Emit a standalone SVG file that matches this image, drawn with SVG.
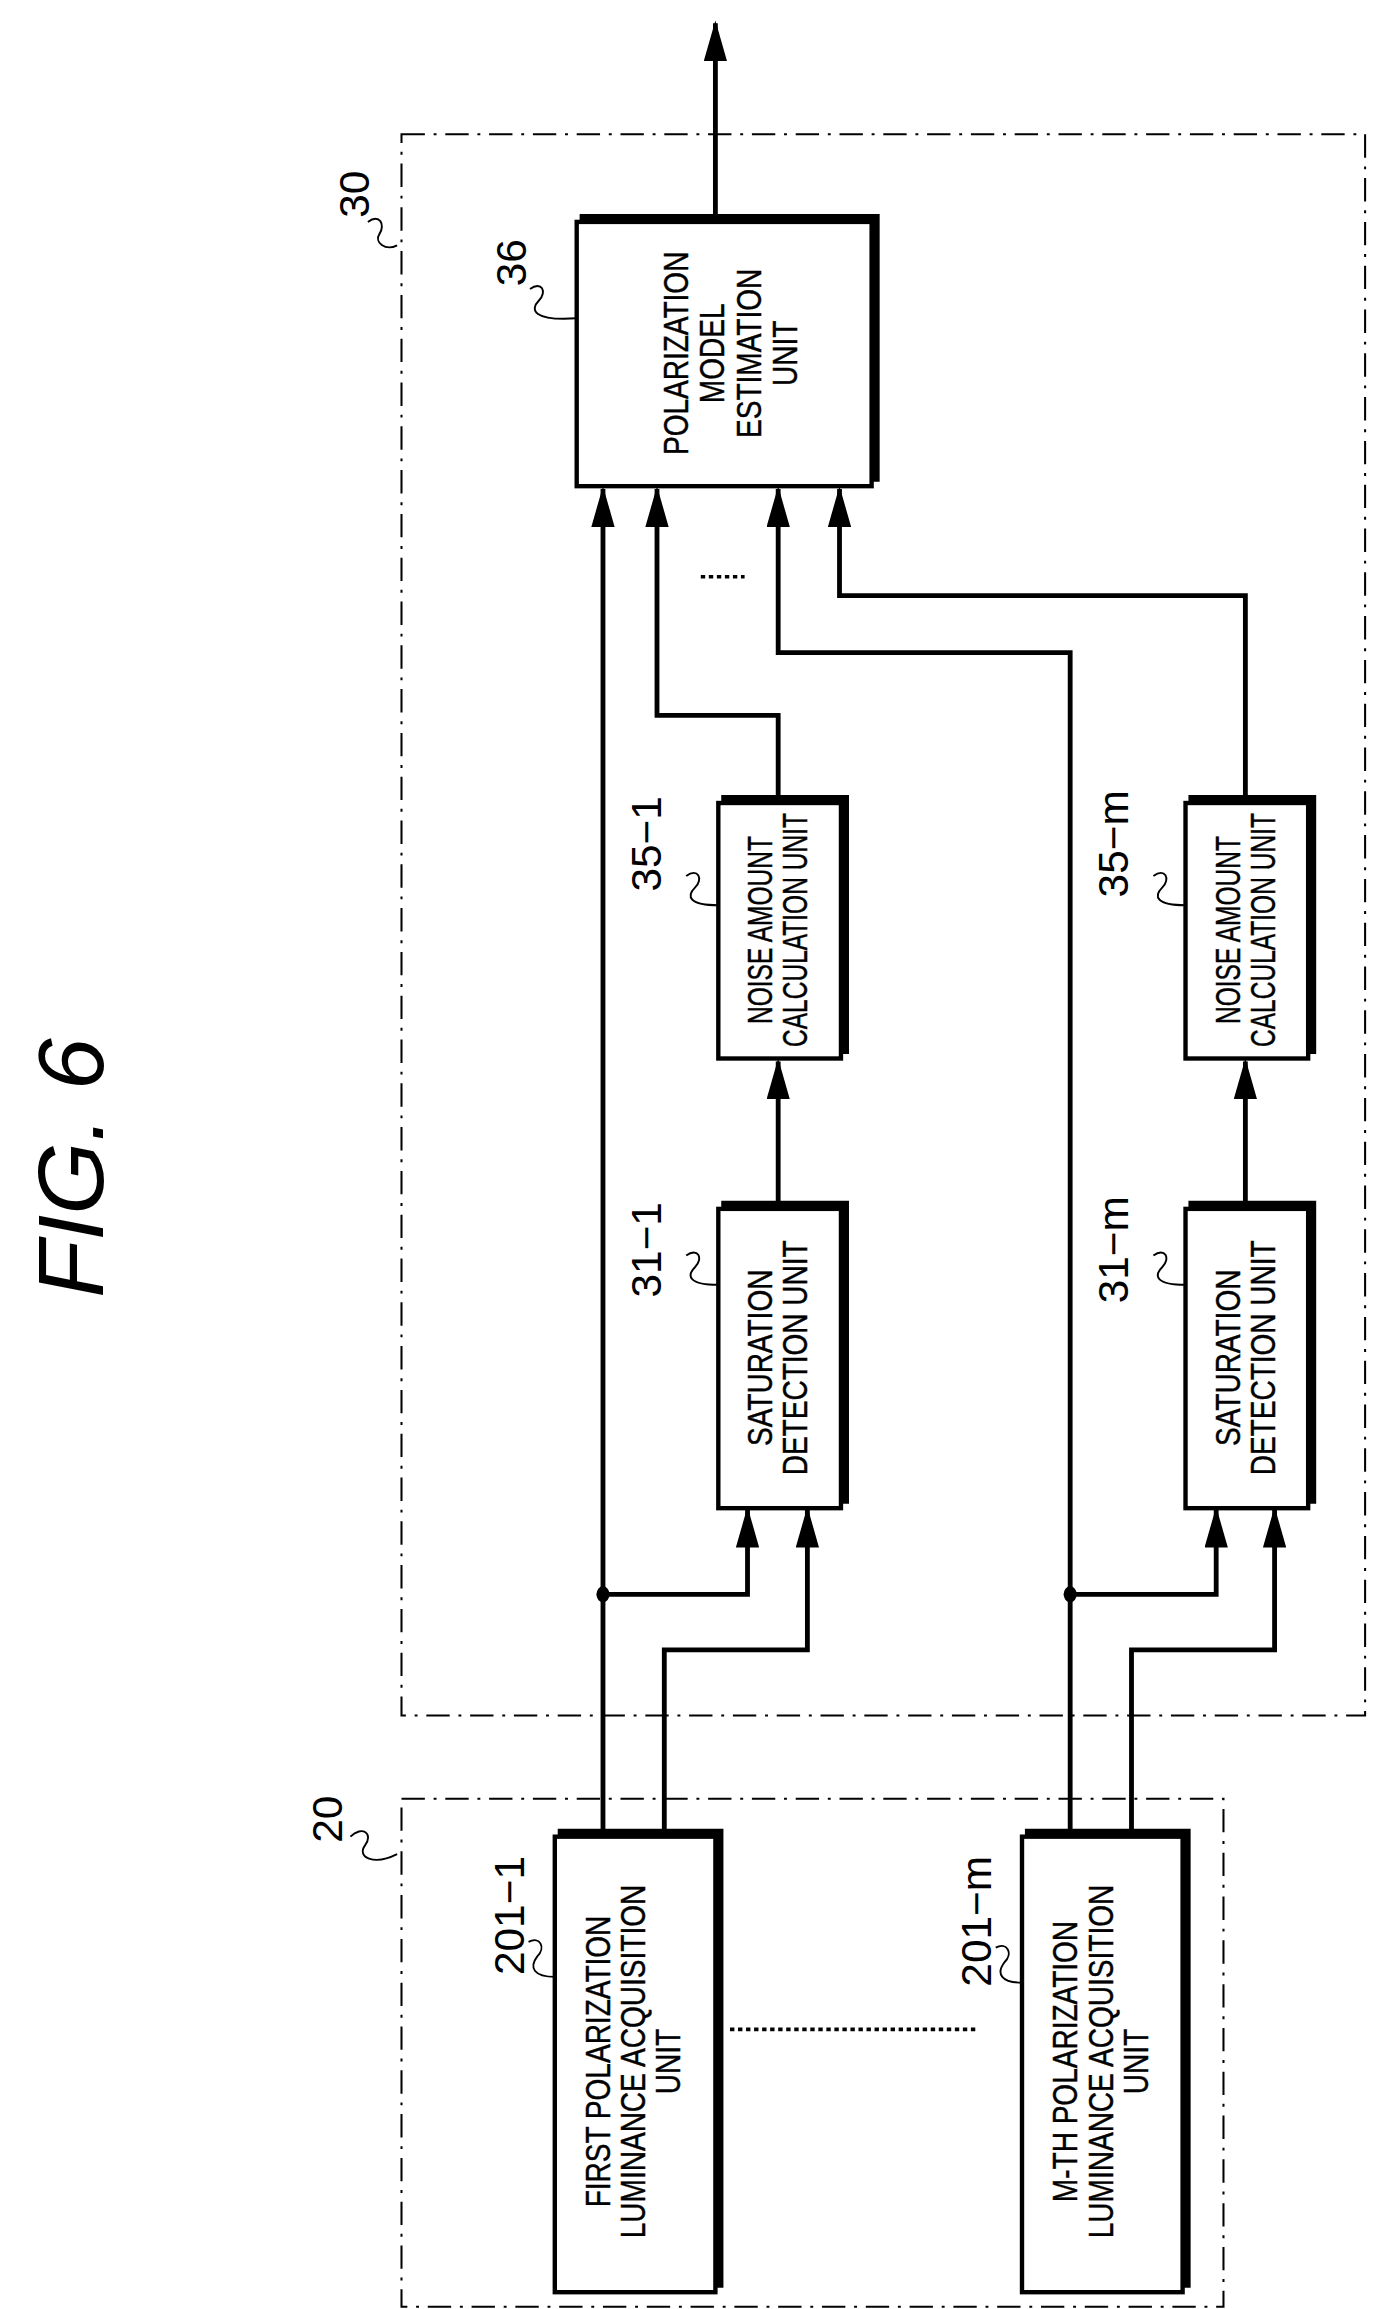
<svg xmlns="http://www.w3.org/2000/svg" width="1397" height="2309" viewBox="0 0 1397 2309">
<style>
.t{font-family:"Liberation Sans",Arial,sans-serif;font-size:24px;fill:#000;text-anchor:middle;stroke:#000;stroke-width:0.3}
.l{font-family:"Liberation Sans",Arial,sans-serif;font-size:29px;fill:#000;text-anchor:middle}
.b{fill:#fff;stroke:#000;stroke-width:3}
.s{fill:none;stroke:#000;stroke-width:5}
.c{fill:none;stroke:#000;stroke-width:3.3}
.q{fill:none;stroke:#000;stroke-width:1.3}
.d{fill:none;stroke:#000;stroke-width:1.4;stroke-dasharray:16 6 2 6}
</style>
<defs>
<marker id="a" markerUnits="userSpaceOnUse" markerWidth="28" markerHeight="16" refX="26" refY="8" orient="auto" viewBox="0 0 28 16"><path d="M0,0 L28,8 L0,16 Z"/></marker>
</defs>
<g transform="scale(1.46)">
<text transform="translate(48,800) rotate(-90)" style="font-family:'Liberation Sans',Arial,sans-serif;font-size:64px;font-style:italic;text-anchor:middle" dominant-baseline="central">FIG. 6</text>
<g id="box30"><rect class="d" x="275" y="92" width="660" height="1083"/>
<text class="l" transform="translate(243,133) rotate(-90)" dominant-baseline="central">30</text><path class="q" d="M252,152 c8,-6 12,2 8,8 c-4,6 4,12 12,8"/></g>
<g id="box20"><rect class="d" x="275" y="1232" width="563" height="348"/>
<text class="l" transform="translate(224,1246) rotate(-90)" dominant-baseline="central">20</text><path class="q" d="M240,1258 c8,-8 16,-2 10,6 c-6,8 6,14 22,6"/></g>
<g id="connectors">
<path class="c" d="M490,150 V16" marker-end="url(#a)"/>
<path class="c" d="M413,1255 V335" marker-end="url(#a)"/>
<path class="c" d="M533,548 V490 H450 V335" marker-end="url(#a)"/>
<path class="c" d="M733,1255 V447 H533 V335" marker-end="url(#a)"/>
<path class="c" d="M853,548 V408 H575 V335" marker-end="url(#a)"/>
<path class="c" d="M533,826 V727" marker-end="url(#a)"/>
<path class="c" d="M853,826 V727" marker-end="url(#a)"/>
<path class="c" d="M413,1092 H512 V1034" marker-end="url(#a)"/>
<path class="c" d="M455,1255 V1130 H553 V1034" marker-end="url(#a)"/>
<path class="c" d="M733,1092 H833 V1034" marker-end="url(#a)"/>
<path class="c" d="M775,1255 V1130 H873 V1034" marker-end="url(#a)"/>
<ellipse cx="413" cy="1092" rx="4.5" ry="5.5"/>
<ellipse cx="733" cy="1092" rx="4.5" ry="5.5"/>
<path d="M480,395 H510" stroke="#000" stroke-width="2.5" stroke-dasharray="3 2.5"/>
<path d="M500,1390 H670" stroke="#000" stroke-width="2.5" stroke-dasharray="3 2.5"/>
</g>
<g id="n36"><rect class="b" x="395" y="152" width="202" height="181"/><path class="s" d="M397,149 H600 V330"/>
<text class="t" transform="translate(497,242) rotate(-90) scale(0.8,1)"><tspan x="0" y="-26">POLARIZATION</tspan><tspan x="0" y="-1">MODEL</tspan><tspan x="0" y="24">ESTIMATION</tspan><tspan x="0" y="49">UNIT</tspan></text>
<text class="l" transform="translate(350,180) rotate(-90)" dominant-baseline="central">36</text><path class="q" d="M363,198 c8,-6 12,2 6,8 c-6,6 -4,14 26,12"/></g>
<g id="n35-1"><rect class="b" x="492" y="550" width="84" height="175"/><path class="s" d="M494,547 H579 V722"/>
<text class="t" transform="translate(534,637) rotate(-90) scale(0.7,1)"><tspan x="0" y="-5">NOISE AMOUNT</tspan><tspan x="0" y="19">CALCULATION UNIT</tspan></text>
<text class="l" transform="translate(443,578) rotate(-90)" dominant-baseline="central">35−1</text><path class="q" d="M470,600 c8,-6 12,2 6,8 c-6,6 -4,12 16,12"/></g>
<g id="n31-1"><rect class="b" x="492" y="828" width="84" height="205"/><path class="s" d="M494,825 H579 V1030"/>
<text class="t" transform="translate(534,930) rotate(-90) scale(0.8,1)"><tspan x="0" y="-5">SATURATION</tspan><tspan x="0" y="19">DETECTION UNIT</tspan></text>
<text class="l" transform="translate(443,856) rotate(-90)" dominant-baseline="central">31−1</text><path class="q" d="M470,860 c8,-6 12,2 6,8 c-6,6 -4,12 16,12"/></g>
<g id="n35-m"><rect class="b" x="812" y="550" width="84" height="175"/><path class="s" d="M814,547 H899 V722"/>
<text class="t" transform="translate(854,637) rotate(-90) scale(0.7,1)"><tspan x="0" y="-5">NOISE AMOUNT</tspan><tspan x="0" y="19">CALCULATION UNIT</tspan></text>
<text class="l" transform="translate(763,578) rotate(-90)" dominant-baseline="central">35−m</text><path class="q" d="M790,600 c8,-6 12,2 6,8 c-6,6 -4,12 16,12"/></g>
<g id="n31-m"><rect class="b" x="812" y="828" width="84" height="205"/><path class="s" d="M814,825 H899 V1030"/>
<text class="t" transform="translate(854,930) rotate(-90) scale(0.8,1)"><tspan x="0" y="-5">SATURATION</tspan><tspan x="0" y="19">DETECTION UNIT</tspan></text>
<text class="l" transform="translate(763,856) rotate(-90)" dominant-baseline="central">31−m</text><path class="q" d="M790,860 c8,-6 12,2 6,8 c-6,6 -4,12 16,12"/></g>
<g id="n201-1"><rect class="b" x="380" y="1258" width="110" height="312"/><path class="s" d="M382,1255 H493 V1567"/>
<text class="t" transform="translate(435,1412) rotate(-90) scale(0.8,1)"><tspan x="0" y="-17">FIRST POLARIZATION</tspan><tspan x="0" y="7">LUMINANCE ACQUISITION</tspan><tspan x="0" y="31">UNIT</tspan></text>
<text class="l" transform="translate(349,1312) rotate(-90)" dominant-baseline="central">201−1</text><path class="q" d="M362,1330 c8,-4 12,4 6,10 c-6,8 -2,14 12,14"/></g>
<g id="n201-m"><rect class="b" x="700" y="1258" width="110" height="312"/><path class="s" d="M702,1255 H813 V1567"/>
<text class="t" transform="translate(755,1412) rotate(-90) scale(0.8,1)"><tspan x="0" y="-17">M-TH POLARIZATION</tspan><tspan x="0" y="7">LUMINANCE ACQUISITION</tspan><tspan x="0" y="31">UNIT</tspan></text>
<text class="l" transform="translate(669,1316) rotate(-90)" dominant-baseline="central">201−m</text><path class="q" d="M682,1334 c8,-4 12,4 6,10 c-6,8 -2,14 12,14"/></g>
</g>
</svg>
